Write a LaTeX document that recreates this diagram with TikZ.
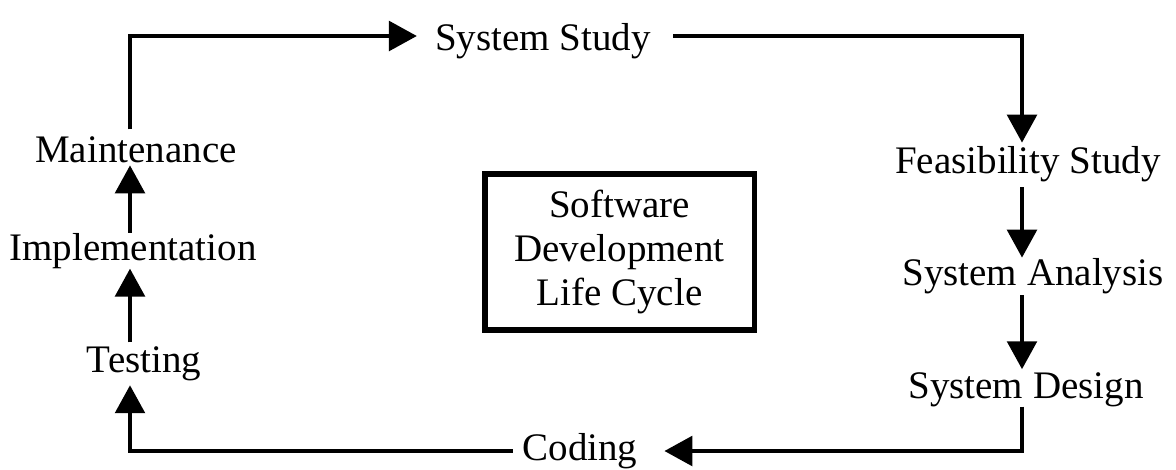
\documentclass[tikz,border=0pt]{standalone}
\usepackage{fontspec}
\setmainfont{Liberation Serif}
\usetikzlibrary{arrows.meta}
\begin{document}
\begin{tikzpicture}[x=0.75pt,y=-0.75pt,
  lbl/.style={inner sep=0pt, anchor=base, font=\fontsize{29.25}{33}\selectfont},
  conn/.style={line width=3.5pt},
  arr/.style={conn,-{Triangle[length=21pt,width=22pt]}}]
\useasboundingbox (0,0) rectangle (1176,469);
\coordinate (lx) at (130,0);
\coordinate (rx) at (1022,0);
\coordinate (ty) at (0,36);
\coordinate (by) at (0,451);
\node[lbl] (study) at (543,50) {System Study};
\node[lbl] (feas) at (1028,173) {Feasibility Study};
\node[lbl] (anal) at (1033,285) {System Analysis};
\node[lbl] (design) at (1026,398) {System Design};
\node[lbl] (coding) at (580,460) {Coding};
\node[lbl] (testing) at (144,372) {Testing};
\node[lbl] (impl) at (133,260) {Implementation};
\node[lbl] (maint) at (136,162) {Maintenance};
\node[draw, line width=4pt, minimum width=202pt, minimum height=117pt, align=center,
      inner sep=0pt, font=\fontsize{29.25}{33}\selectfont] (sdlc) at (619.5,252)
      {Software\\Development\\Life Cycle};
\draw[arr] ([yshift=5pt]maint.north -| lx) -- (lx |- ty) -- ([xshift=-13.5pt]study.west |- ty);
\draw[arr] ([xshift=16.5pt]study.east |- ty) -- (rx |- ty) -- ([yshift=2.25pt]feas.north -| rx);
\draw[arr] ([yshift=-4pt]feas.south -| rx) -- (anal.north -| rx);
\draw[arr] ([yshift=-1pt]anal.south -| rx) -- ([yshift=2pt]design.north -| rx);
\draw[arr] (design.south -| rx) -- (rx |- by) -- ([xshift=20pt]coding.east |- by);
\draw[arr] ([xshift=-7pt]coding.west |- by) -- (lx |- by) -- ([yshift=-3.4pt]testing.south -| lx);
\draw[arr] ([yshift=2.6pt]testing.north -| lx) -- (impl.south -| lx);
\draw[arr] (impl.north -| lx) -- ([yshift=-2pt]maint.south -| lx);
\end{tikzpicture}
\end{document}
